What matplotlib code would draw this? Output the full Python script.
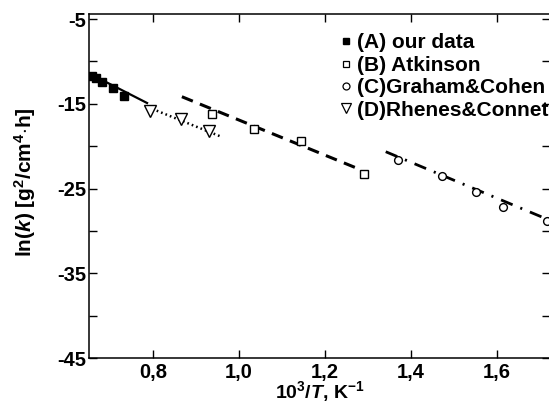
import matplotlib
matplotlib.use("Agg")
import matplotlib.pyplot as plt
from matplotlib.lines import Line2D
from matplotlib.ticker import FuncFormatter, FixedLocator

plt.rcParams['font.family'] = ['Liberation Sans', 'DejaVu Sans']
plt.rcParams['font.weight'] = 'bold'
plt.rcParams['axes.unicode_minus'] = False
plt.rcParams['mathtext.fontset'] = 'custom'
plt.rcParams['mathtext.rm'] = 'Liberation Sans:bold'
plt.rcParams['mathtext.it'] = 'Liberation Sans:italic:bold'
plt.rcParams['mathtext.bf'] = 'Liberation Sans:bold'
plt.rcParams['lines.scale_dashes'] = False

# ---- data ----
a_x = [0.658, 0.668, 0.682, 0.707, 0.733]
a_y = [-11.78, -12.02, -12.49, -13.14, -14.03]
b_x = [0.937, 1.035, 1.143, 1.291]
b_y = [-16.24, -18.01, -19.36, -23.29]
c_x = [1.369, 1.471, 1.551, 1.613, 1.717]
c_y = [-21.64, -23.52, -25.45, -27.15, -28.80]
d_x = [0.793, 0.864, 0.930]
d_y = [-15.80, -16.78, -18.24]

# fitted lines (end points)
fit_a_x = [0.654, 0.786]
fit_a_y = [-11.49, -14.91]
fit_b_x = [0.867, 1.280]
fit_b_y = [-14.17, -22.73]
fit_c_x = [1.341, 1.720]
fit_c_y = [-20.66, -28.70]
fit_d_x = [0.788, 0.960]
fit_d_y = [-15.40, -18.92]

labels = ["(A) our data", "(B) Atkinson", "(C)Graham&Cohen", "(D)Rhenes&Connet"]
x_ticks = [0.8, 1.0, 1.2, 1.4, 1.6]
y_major = [-45, -35, -25, -15, -5]
y_minor = [-40, -30, -20, -10]

fig = plt.figure(figsize=(5.49, 4.04), dpi=100)
W, H = 549, 404
ax = fig.add_axes([89 / W, 1 - 358 / H, (550 - 89) / W, (358 - 14) / H])

ax.plot(fit_a_x, fit_a_y, color='black', lw=1.6, ls='-')
ax.plot(fit_b_x, fit_b_y, color='black', lw=2.2, dashes=(8.5, 5.5))
ax.plot(fit_c_x, fit_c_y, color='black', lw=2.0, dashes=(9, 6, 1.5, 6))
ax.plot(fit_d_x, fit_d_y, color='black', lw=1.8, dashes=(1.2, 2.2))

ax.plot(a_x, a_y, ls='none', marker='s', ms=6, color='black', mfc='black')
ax.plot(b_x, b_y, ls='none', marker='s', ms=5.2, color='black', mfc='white', mew=1.0)
ax.plot(c_x, c_y, ls='none', marker='o', ms=5.6, color='black', mfc='white', mew=1.0, clip_on=False)
ax.plot(d_x, d_y, ls='none', marker='v', ms=8.5, color='black', mfc='white', mew=1.0)

ax.set_xlim(0.651, 1.723)
ax.set_ylim(-45, -4.41)

ax.xaxis.set_major_locator(FixedLocator(x_ticks))
ax.xaxis.set_major_formatter(FuncFormatter(lambda v, p: f"{v:.1f}".replace('.', ',')))
ax.yaxis.set_major_locator(FixedLocator(y_major))
ax.yaxis.set_minor_locator(FixedLocator(y_minor))
ax.yaxis.set_major_formatter(FuncFormatter(lambda v, p: f"{int(round(v))}"))

ax.tick_params(axis='both', which='both', direction='in', length=6, width=1.0,
               top=True, right=True, labelsize=14.5)
ax.tick_params(axis='x', pad=3.5)
ax.tick_params(axis='y', pad=2)
for s in ax.spines.values():
    s.set_linewidth(1.1)

ax.set_xlabel(r"10$^{3}$/$\mathit{T}$, K$^{-1}$", fontsize=14, fontweight='bold')
ax.xaxis.set_label_coords(0.5, -0.060)
ax.set_ylabel(r"ln($\mathit{k}$) [g$^{2}$/cm$^{4}$$\cdot$h]", fontsize=15, fontweight='bold')
ax.yaxis.set_label_coords(-0.110, 0.51)

handles = [
    Line2D([], [], ls='none', marker='s', ms=4.5, color='black', mfc='black'),
    Line2D([], [], ls='none', marker='s', ms=5, color='black', mfc='white', mew=0.9),
    Line2D([], [], ls='none', marker='o', ms=5, color='black', mfc='white', mew=0.9),
    Line2D([], [], ls='none', marker='v', ms=7, color='black', mfc='white', mew=0.9),
]
leg = fig.legend(handles, labels, loc='upper left', bbox_to_anchor=(340 / W, 1 - 33.5 / H),
                 frameon=False, borderpad=0, borderaxespad=0, handlelength=0.6,
                 handletextpad=0.2, labelspacing=0.16,
                 prop={'family': 'Liberation Sans', 'weight': 'bold', 'size': 15})

fig.savefig("out.png", dpi=100)
